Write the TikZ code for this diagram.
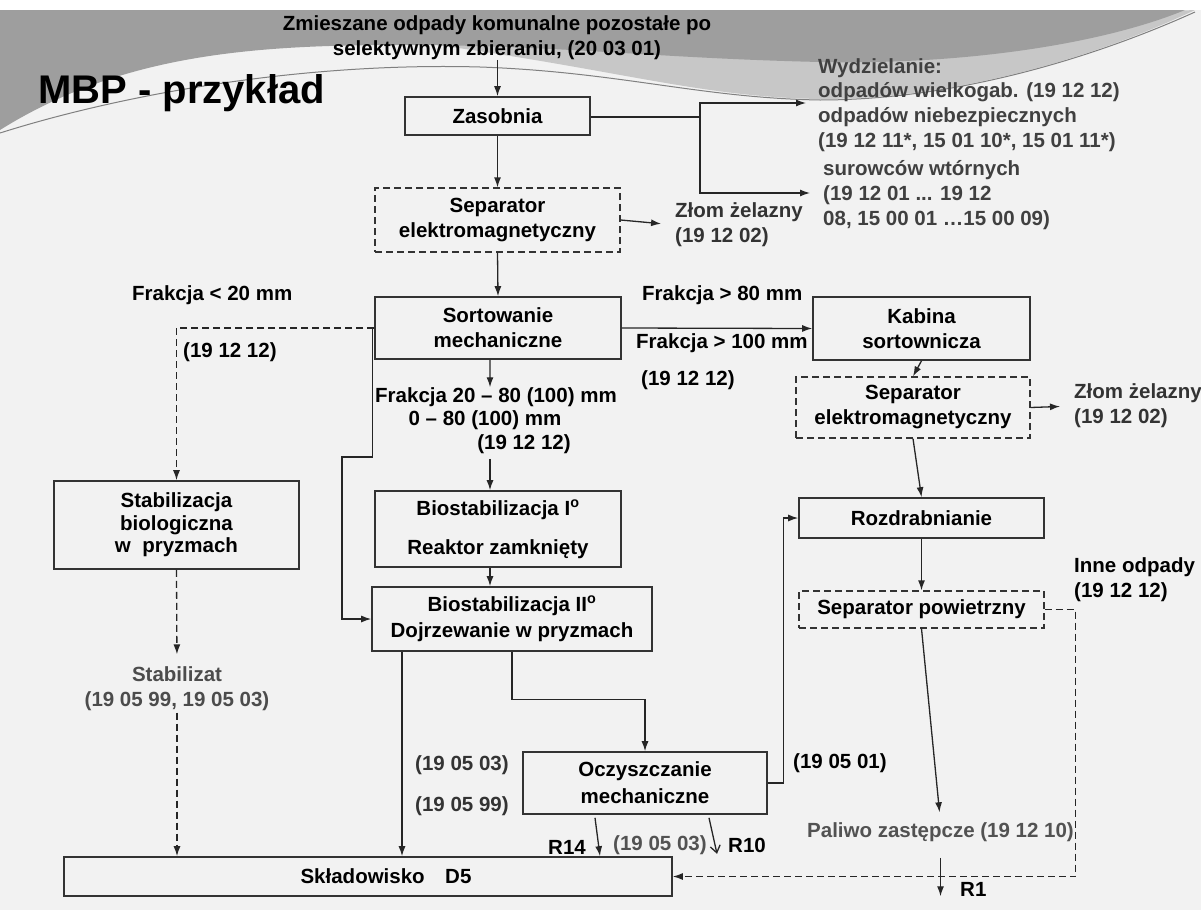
\documentclass[tikz,border=0pt]{standalone}
\usepackage{fontspec}
\setmainfont{Liberation Sans}
\usepackage{tikz}
\usetikzlibrary{calc}
\usetikzlibrary{arrows.meta,positioning}

\begin{document}
\begin{tikzpicture}[x=1pt,y=-1pt,
    box/.style={
      rectangle,
      draw=black!80,
      line width=1.6pt,
      align=center,
      inner sep=0pt,
      font=\bfseries\fontsize{20.5}{25}\selectfont
    },
    dbox/.style={
      box,
      line width=1.3pt,
      dash pattern=on 7pt off 4pt
    },
    txt/.style={
      inner sep=0pt,
      align=left,
      font=\bfseries\fontsize{20.5}{24.8}\selectfont
    },
    arr/.style={-{Latex[length=10pt,width=7pt]}, line width=1.3pt, draw=black!85},
    darr/.style={arr, dash pattern=on 7pt off 4pt},
    oarr/.style={-{Straight Barb[length=7pt,width=10pt]}, line width=1.3pt, draw=black!85}
]

%% Slide background
\useasboundingbox (0,0) rectangle (1201,910);
\fill[black!5] (0,0) rectangle (1201,910);
\fill[white] (0,0) rectangle (1201,10);
\fill[black!22] (430,44) .. controls (620,70) and (700,97) .. (820,99) .. controls (960,99) and (1100,55) .. (1195,10) -- cycle;
\fill[black!38] (0,10) -- (1185,10) .. controls (1100,45) and (960,65) .. (820,62) .. controls (650,58) and (560,45) .. (400,45) .. controls (250,45) and (120,55) .. (0,130) -- cycle;
\draw[black!50, line width=1pt] (0,133) .. controls (120,95) and (300,62) .. (480,67) .. controls (620,72) and (700,98) .. (820,100) .. controls (960,100) and (1100,55) .. (1195,12);

\node[txt, anchor=west, font=\bfseries\fontsize{40}{48}\selectfont] (title) at (38,93) {MBP - przykład};

%% Boxes
\node[box, minimum width=185pt, minimum height=38pt] (zas) at (497.5,116) {Zasobnia};
\node[dbox, minimum width=245pt, minimum height=64pt] (sep1) at (497.5,220) {Separator\\elektromagnetyczny};
\node[box, minimum width=246pt, minimum height=62pt] (sort) at (498,328) {Sortowanie\\mechaniczne};
\node[box, minimum width=217pt, minimum height=63pt] (kab) at (921.5,328.5) {Kabina\\sortownicza};
\node[dbox, minimum width=234pt, minimum height=61pt] (sep2) at (913,407.5) {Separator\\elektromagnetyczny};
\node[box, minimum width=245pt, minimum height=88pt, font=\bfseries\fontsize{20.5}{22.5}\selectfont] (stab) at (176.5,525) {Stabilizacja\\biologiczna\\w~~pryzmach};
\node[box, minimum width=246pt, minimum height=76pt] (bio1) at (498,529) {Biostabilizacja I\textsuperscript{o}\\[14pt]Reaktor zamknięty};
\node[box, minimum width=280pt, minimum height=64pt, font=\bfseries\fontsize{20.5}{26}\selectfont] (bio2) at (512,619) {Biostabilizacja II\textsuperscript{o}\\Dojrzewanie w pryzmach};
\node[box, minimum width=245pt, minimum height=40pt] (rozd) at (921.5,518) {Rozdrabnianie};
\node[dbox, minimum width=245pt, minimum height=37pt] (sepp) at (921.5,609.5) {Separator powietrzny};
\node[box, minimum width=244pt, minimum height=62pt, font=\bfseries\fontsize{20.5}{27}\selectfont] (ocz) at (645,783) {Oczyszczanie\\mechaniczne};
\node[box, minimum width=608pt, minimum height=39pt] (skl) at (368,876.5) {\hspace*{36pt}Składowisko\quad D5};

%% Labels
\node[txt, align=center, font=\bfseries\fontsize{20.5}{25}\selectfont] (in) at (497,37.5) {Zmieszane odpady komunalne pozostałe po\\selektywnym zbieraniu, (20 03 01)};
\node[txt, anchor=west, text=black!75] (wydz) at (818,105) {Wydzielanie:\\odpadów wielkogab. (19 12 12)\\odpadów niebezpiecznych\\(19 12 11*, 15 01 10*, 15 01 11*)};
\node[txt, anchor=west, text=black!75] (surow) at (823,195) {surowców wtórnych\\(19 12 01 ... 19 12\\08, 15 00 01 …15 00 09)};
\node[txt, anchor=west, text=black!80] (zlom1) at (675,225) {Złom żelazny\\(19 12 02)};
\node[txt, anchor=west] (fr20) at (132,295) {Frakcja < 20 mm};
\node[txt, anchor=west] (k20) at (183,352) {(19 12 12)};
\node[txt, anchor=west] (fr80) at (642,295) {Frakcja > 80 mm};
\node[txt, anchor=west] (fr100) at (636,343) {Frakcja > 100 mm};
\node[txt, anchor=west] (k100) at (641,380) {(19 12 12)};
\node[txt, anchor=west] (frA) at (375,397) {Frakcja 20 – 80 (100) mm};
\node[txt] (frB) at (485,420) {0 – 80 (100) mm};
\node[txt] (frC) at (524,444) {(19 12 12)};
\node[txt, anchor=west, text=black!80] (zlom2) at (1074,406) {Złom żelazny\\(19 12 02)};
\node[txt, anchor=west] (inne) at (1074,580) {Inne odpady\\(19 12 12)};
\node[txt, align=center, text=black!70] (stabt) at (177,688.5) {Stabilizat\\(19 05 99, 19 05 03)};
\node[txt, anchor=west, text=black!80] (k0503) at (415,765) {(19 05 03)};
\node[txt, anchor=west, text=black!80] (k0599) at (415,806) {(19 05 99)};
\node[txt, anchor=west] (k0501) at (793,763) {(19 05 01)};
\node[txt, anchor=west, text=black!68] (paliwo) at (807,832) {Paliwo zastępcze (19 12 10)};
\node[txt, anchor=west] (r14) at (548,847) {R14};
\node[txt, anchor=west, text=black!68] (k0503b) at (613,845) {(19 05 03)};
\node[txt, anchor=west] (r10) at (728,845) {R10};
\node[txt, anchor=west] (r1) at (960,889) {R1};

\coordinate (sw) at (700,117);
\coordinate (wydin) at (806,103);
\coordinate (surin) at (810,193);
\coordinate (bx) at (490,0);

%% Arrows
\draw[arr] (in.south -| zas.north) -- (zas.north);
\draw[arr] (zas.east |- sw) -- (sw) |- (wydin);
\draw[arr] (sw) |- (surin);
\draw[arr] (zas.south) -- (sep1.north);
\draw[arr, shorten >=14pt] (sep1.east) -- (zlom1.west);
\draw[arr] (sep1.south) -- (sort.north);
\draw[arr] (sort.east) -- (kab.west);
\draw[darr] (sort.west) -| (stab.north);
\draw[arr] ([xshift=-2pt]sort.west) -- ++(0,129) -| (bio2.west -| 342,0) -- (bio2.west);
\draw[arr] (sort.south -| bx) -- ([xshift=-6pt]frA.north);
\draw[arr, shorten <=5pt] (frC.south -| bx) -- (bio1.north -| bx);
\draw[arr] (bio1.south -| bx) -- (bio2.north -| bx);
\draw[arr] (kab.south) -- (sep2.north);
\draw[arr, shorten >=14pt] (sep2.east) -- (zlom2.west);
\draw[arr] (sep2.south) -- (rozd.north);
\draw[arr] (rozd.south) -- (sepp.north);
\draw[arr, shorten >=10pt] (sepp.south) -- (paliwo.north);
\draw[darr] (sepp.east) -- ++(31,0) |- (skl.east);
\draw[darr, shorten >=12pt] (stab.south) -- (stabt.north);
\draw[darr, shorten <=2pt] (stabt.south) -- (skl.north -| stabt.south);
\draw[arr] (bio2.south -| 402,0) -- (skl.north -| 402,0);
\draw[arr] (bio2.south) -- ++(0,48) -| (ocz.north);
\draw[arr] (ocz.east) -- ++(16,0) |- (rozd.west);
\draw[arr] ($(ocz.south)+(-50,3)$) -- (skl.north -| 600,0);
\draw[oarr] ($(ocz.south)+(64,3)$) -- ($(ocz.south)+(72,39)$);
\draw[arr] (paliwo.south) ++(0,16) -- (paliwo.south |- r1.south);

\end{tikzpicture}
\end{document}
